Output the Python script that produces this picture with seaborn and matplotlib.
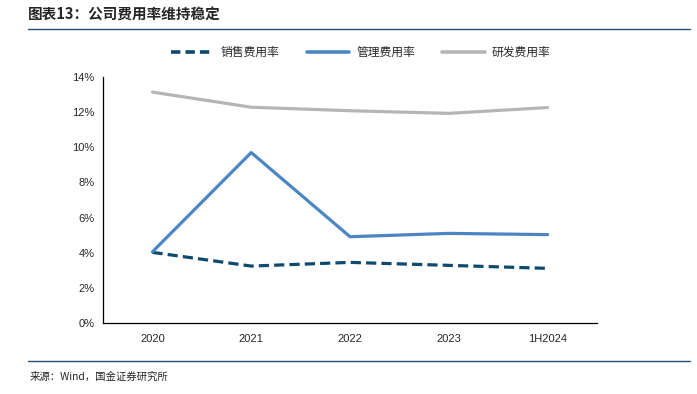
import pandas as pd
import matplotlib.pyplot as plt
import seaborn as sns
from matplotlib.lines import Line2D
from matplotlib.ticker import FixedLocator, FuncFormatter

# ---- data (%)
periods = ['2020', '2021', '2022', '2023', '1H2024']
sales_rate = [4.02, 3.24, 3.45, 3.28, 3.11]
admin_rate = [4.05, 9.70, 4.91, 5.10, 5.03]
rd_rate = [13.14, 12.28, 12.08, 11.93, 12.26]

series_names = ['销售费用率', '管理费用率', '研发费用率']
colors = ['#0d4a6d', '#4a85c4', '#b5b5b5']

df = pd.DataFrame({
    'x': list(range(len(periods))) * 3,
    'value': sales_rate + admin_rate + rd_rate,
    'series': [s for s in series_names for _ in periods],
})

sns.set_theme(style='white')
plt.rcParams['font.family'] = ['Liberation Sans', 'Noto Sans CJK SC', 'DejaVu Sans']

fig = plt.figure(figsize=(6.97, 3.94), dpi=100)
ax = fig.add_axes([0.1478, 0.1802, 0.7087, 0.6244])

for name, col in zip(series_names, colors):
    sub = df[df['series'] == name]
    sns.lineplot(data=sub, x='x', y='value', ax=ax, color=col, linewidth=2.3,
                 linestyle='--' if name == '销售费用率' else '-', legend=False)
ax.lines[0].set_dashes([3.2, 1.6])

ax.set_xlim(-0.5, len(periods) - 0.5)
ax.set_ylim(0, 14)
ax.set_xlabel('')
ax.set_ylabel('')

# category axis: ticks between categories, labels centred
ax.xaxis.set_major_locator(FixedLocator([i - 0.5 for i in range(len(periods) + 1)]))
ax.xaxis.set_minor_locator(FixedLocator(range(len(periods))))
ax.set_xticklabels([], minor=False)
ax.set_xticklabels(periods, minor=True, fontsize=8)
ax.tick_params(axis='x', which='major', direction='out', length=3, width=0.8, color='black')
ax.tick_params(axis='x', which='minor', length=0, pad=8)

ax.set_yticks(range(0, 15, 2))
ax.yaxis.set_major_formatter(FuncFormatter(lambda v, p: f'{int(v)}%'))
ax.tick_params(axis='y', direction='out', length=3, width=0.8, color='black', labelsize=8, pad=3)

for side in ['top', 'right']:
    ax.spines[side].set_visible(False)
for side in ['left', 'bottom']:
    ax.spines[side].set_color('black')
    ax.spines[side].set_linewidth(0.9)

# legend
handles = [
    Line2D([], [], color=colors[0], linewidth=2.6, linestyle=(0, (2.6, 1.4))),
    Line2D([], [], color=colors[1], linewidth=2.6),
    Line2D([], [], color=colors[2], linewidth=2.6),
]
fig.legend(handles, series_names, loc='center', bbox_to_anchor=(0.518, 0.866), ncol=3,
           frameon=False, handlelength=3.6, columnspacing=2.3,
           handletextpad=0.6, prop={'family': ['Noto Sans CJK SC'], 'size': 8.5})

# title and header rule
fig.text(0.04, 0.962, '图表13：公司费用率维持稳定', fontsize=10.5, fontweight='bold',
         style='italic', family=['Noto Sans CJK SC'], va='center', ha='left')
fig.add_artist(Line2D([0.04, 0.99], [0.926, 0.926], color='#1f4e79', linewidth=1.0))

# footer rule and source
fig.add_artist(Line2D([0.04, 0.99], [0.084, 0.084], color='#1f4e79', linewidth=1.0))
fig.text(0.043, 0.043, '来源：Wind，国金证券研究所', fontsize=7.5,
         family=['Noto Sans CJK SC'], va='center', ha='left')

fig.savefig('out.png', dpi=100)
